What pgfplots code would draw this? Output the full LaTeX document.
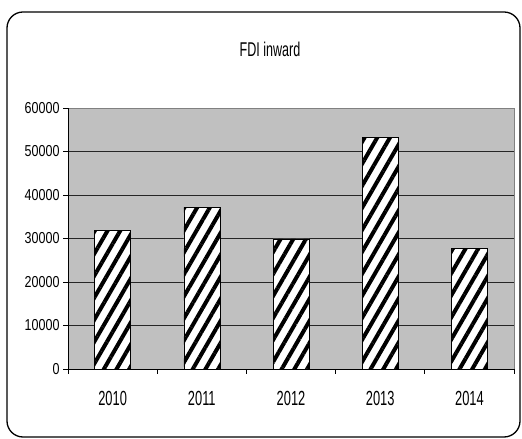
\documentclass[border=0pt]{standalone}
\usepackage{fontspec}
\setmainfont{Liberation Sans}[FakeStretch=0.63]
\newfontfamily\ylabfont{Liberation Sans}[FakeStretch=0.79]
\usepackage{pgfplots}
\pgfplotsset{compat=1.18}
\usetikzlibrary{patterns.meta}
\definecolor{plotbg}{HTML}{C0C0C0}
\begin{document}
\begin{tikzpicture}[x=1bp,y=1bp]
\useasboundingbox (0,0) rectangle (522,439);
\draw[line width=1.3bp, rounded corners=16bp] (7,2) rectangle (520,427);
\node[font=\fontsize{20}{24}\selectfont] at (270,389.5) {FDI inward};
\begin{axis}[
  at={(68bp,70bp)}, anchor=south west,
  scale only axis, width=446bp, height=261bp,
  xmin=-0.5, xmax=4.5, ymin=0, ymax=60000,
  axis x line*=bottom, axis y line*=left,
  axis line style={black, line width=0.8bp},
  axis background/.style={fill=plotbg, draw=black!50, line width=0.8bp},
  xtick={0,...,4}, xticklabels={2010,2011,2012,2013,2014},
  major x tick style={draw=none},
  minor xtick={-0.5,0.5,...,4.5},
  ytick={0,10000,...,50000},
  extra y ticks={60000}, extra y tick style={grid=none},
  tick align=outside,
  major tick length=5bp, minor tick length=5bp,
  tick style={black, line width=0.8bp},
  ymajorgrids, grid style={black!85, line width=0.8bp},
  scaled y ticks=false,
  /pgf/number format/assume math mode=true,
  /pgf/number format/1000 sep={},
  yticklabel style={font=\ylabfont\fontsize{15.9}{18}\selectfont},
  xticklabel style={font=\fontsize{20.5}{24}\selectfont, yshift=-14bp},
  ybar, bar width=36bp,
]
\addplot[draw=black, line width=0.6bp, preaction={fill=white},
  pattern={Lines[angle=60,distance=11bp,line width=4bp]}, pattern color=black]
  coordinates {(0,31800) (1,37200) (2,29900) (3,53300) (4,27800)};
\end{axis}
\end{tikzpicture}
\end{document}
